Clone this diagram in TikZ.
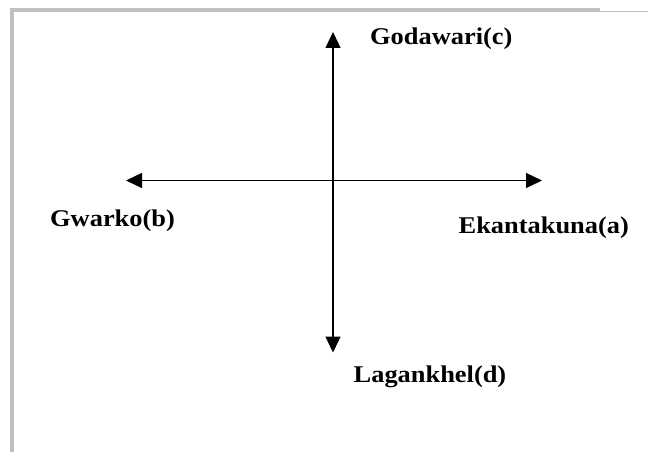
\documentclass[tikz,border=0pt]{standalone}
\usepackage{fontspec}
\usepackage{graphicx}
\setmainfont{Liberation Serif}
\usetikzlibrary{arrows.meta}

\tikzset{
  frameline/.style={fill=black!25, draw=none},
  axis/.style={line width=1.3pt, {Triangle[length=16pt,width=15pt]}-{Triangle[length=16pt,width=15pt]}},
  place/.style={anchor=base west, inner sep=0pt, font=\fontsize{24}{28}\selectfont\bfseries}
}
\newcommand{\wide}[1]{\scalebox{1.1}[1]{#1}}

\begin{document}
\begin{tikzpicture}[x=1pt, y=-1pt]
  \useasboundingbox (0,0) rectangle (648,452);
  % page frame: top and left edges
  \fill[frameline] (10,8.3) rectangle (600,12);
  \fill[frameline] (600,11) rectangle (648,12.3);
  \fill[frameline] (10,8.3) rectangle (14,452);

  % axis end points
  \coordinate (north) at (333,32);
  \coordinate (south) at (333,352.5);
  \coordinate (west)  at (126,180.5);
  \coordinate (east)  at (542,180.5);

  \draw[axis] (south) -- (north);
  \draw[axis] (west) -- (east);

  % place labels
  \node[place] (c) at (370,44.5)   {\wide{Godawari(c)}};
  \node[place] (b) at (50,226.5)   {\wide{Gwarko(b)}};
  \node[place] (a) at (458.5,233) {\wide{Ekantakuna(a)}};
  \node[place] (d) at (353.5,382.5) {\wide{Lagankhel(d)}};
\end{tikzpicture}
\end{document}
